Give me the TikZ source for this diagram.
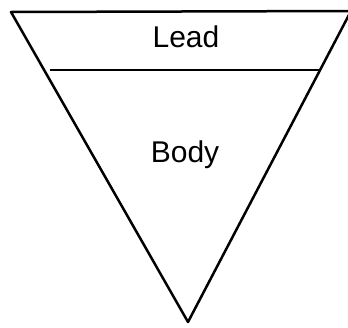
\documentclass[tikz,border=0pt]{standalone}
\usepackage{fontspec}
\setmainfont{Liberation Sans}
\tikzset{
    bordo/.style={line width=2.5pt, line join=round},
    scritta/.style={font=\fontsize{30}{36}\selectfont, anchor=base}
}
\begin{document}
\begin{tikzpicture}[x=1pt, y=-1pt]
        \useasboundingbox (0,0) rectangle (348,327);
        %vertici del triangolo
        \coordinate (alto sx) at (11,12);
        \coordinate (alto dx) at (351,11);
        \coordinate (punta) at (188,322);
        \draw[bordo] (alto sx)--(alto dx)--(punta)--cycle; %triangolo rovesciato
        %linea di separazione
        \coordinate (sep sx) at (50,70);
        \coordinate (sep dx) at (319,70);
        \draw[bordo] (sep sx)--(sep dx);
        %testi
        \node[scritta] (lead) at (186,47) {Lead};
        \node[scritta] (body) at (185,162) {Body};
    \end{tikzpicture}
\end{document}
